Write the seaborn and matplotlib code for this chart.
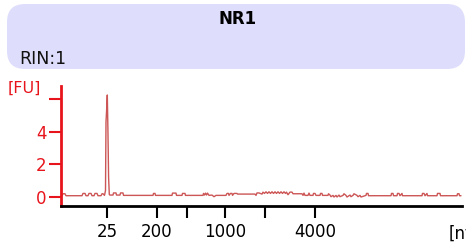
import matplotlib
matplotlib.use("Agg")
import matplotlib.pyplot as plt
import matplotlib.transforms as mtransforms
from matplotlib.patches import FancyBboxPatch
import seaborn as sns
import pandas as pd

# ---- data (x in migration-position units, y in fluorescence units) ----
time_pos = [62, 63, 65, 66,
            82, 83, 85, 86, 88, 89, 91, 92, 94, 95, 97, 98,
            101, 102, 103, 104.5, 105.5, 106, 106.6, 107.3, 107.9, 108.6, 109.3,
            110, 113, 113.5, 116, 116.5, 120, 120.5, 123, 123.5,
            153, 153.5, 155, 155.5, 172, 172.5, 176, 176.5, 182, 182.5, 185, 185.5,
            203, 203.5, 204.5, 205.5, 206.5, 207.5, 209, 212, 214, 216,
            226, 227, 228.5, 229, 230.5, 232, 232.5, 234, 237, 237.5,
            255, 256, 257, 259, 262, 263, 264.5, 266, 267.5, 269, 270.5, 272,
            273.5, 275, 276.5, 278, 279.5, 281, 282.5, 284, 285.5,
            286.5, 288, 290, 292, 293, 302, 303, 304, 305, 308, 309, 310, 313, 313.5,
            315, 316, 320, 320.5, 322, 322.5, 328, 328.5, 330, 331,
            333, 334, 336, 337, 339, 340, 343, 344, 346, 347, 350, 351, 353, 354,
            357, 358, 360, 361, 366, 366.5, 368, 368.5,
            391, 391.5, 393, 393.5, 397, 397.5, 399, 400, 402, 402.5,
            422, 422.5, 424, 425, 427, 427.5, 437, 437.5, 440, 440.5,
            457, 457.5, 459, 459.5, 461]
fluor = [0.08, 0.2, 0.2, 0.08,
         0.08, 0.22, 0.22, 0.08, 0.08, 0.22, 0.22, 0.08, 0.08, 0.22, 0.22, 0.08,
         0.08, 0.2, 0.2, 0.1, 0.4, 4.6, 5.3, 6.25, 4.2, 1.2, 0.15,
         0.12, 0.12, 0.25, 0.25, 0.12, 0.12, 0.25, 0.25, 0.1,
         0.1, 0.22, 0.22, 0.1, 0.1, 0.24, 0.24, 0.1, 0.1, 0.22, 0.22, 0.1,
         0.1, 0.22, 0.12, 0.24, 0.12, 0.24, 0.1, 0.12, 0.02, 0.1,
         0.1, 0.22, 0.22, 0.1, 0.22, 0.22, 0.1, 0.22, 0.22, 0.18,
         0.18, 0.1, 0.25, 0.25, 0.18, 0.3, 0.22, 0.32, 0.22, 0.32, 0.22, 0.32,
         0.22, 0.32, 0.22, 0.32, 0.22, 0.32, 0.22, 0.32, 0.22,
         0.3, 0.14, 0.3, 0.3, 0.2, 0.2, 0.1, 0.24, 0.1, 0.1, 0.24, 0.1, 0.1, 0.22,
         0.22, 0.1, 0.1, 0.22, 0.22, 0.1, 0.1, 0.2, 0.12, 0.02,
         0.1, 0.0, 0.1, 0.0, 0.12, 0.02, 0.1, 0.2, 0.1, 0.0, 0.12, 0.02, 0.1, 0.2,
         0.1, 0.02, 0.1, 0.0, 0.1, 0.22, 0.22, 0.08,
         0.08, 0.22, 0.22, 0.08, 0.08, 0.22, 0.22, 0.08, 0.22, 0.08,
         0.08, 0.22, 0.22, 0.08, 0.22, 0.08, 0.08, 0.22, 0.22, 0.08,
         0.08, 0.2, 0.2, 0.08, 0.08]

x_tick_pos = [107, 157, 187, 225, 265, 315]
x_tick_labels = ["25", "200", "", "1000", "", "4000"]
y_tick_vals = [0, 2, 4, 6]
y_tick_labels = ["0", "2", "4", ""]
title = "NR1"
rin_text = "RIN:1"

# ---- figure ----
sns.set_style("white")
plt.rcParams["font.family"] = ["DejaVu Sans"]
W, H = 466, 248
fig = plt.figure(figsize=(W / 100, H / 100), dpi=100)

# header box in pixel coordinates
box = FancyBboxPatch((7 + 18, H - 69 + 18), 458 - 36, 65 - 36,
                     boxstyle="round,pad=18", transform=mtransforms.IdentityTransform(),
                     facecolor="#dedefc", edgecolor="none", zorder=0)
fig.add_artist(box)
fig.text(238 / W, 1 - 19 / H, title, ha="center", va="center",
         fontsize=12, fontweight="bold", color="black")
fig.text(19 / W, 1 - 59 / H, rin_text, ha="left", va="center",
         fontsize=12.5, color="#111111")

ax = fig.add_axes([61 / W, 1 - 206 / H, (462 - 61) / W, (206 - 86) / H])
ax.set_facecolor("none")
df = pd.DataFrame({"pos": time_pos, "fu": fluor})
sns.lineplot(data=df, x="pos", y="fu", ax=ax, color="#cc5555", linewidth=1.0,
             estimator=None, sort=False)

ax.set_xlim(61, 462)
ax.set_ylim(-0.55, 6.8)
ax.set_xlabel("")
ax.set_ylabel("")
ax.set_xticks(x_tick_pos)
ax.set_xticklabels(x_tick_labels)
ax.set_yticks(y_tick_vals)
ax.set_yticklabels(y_tick_labels)

red = "#e8141c"
for s in ["top", "right"]:
    ax.spines[s].set_visible(False)
ax.spines["left"].set_color(red)
ax.spines["left"].set_linewidth(2)
ax.spines["bottom"].set_color("black")
ax.spines["bottom"].set_linewidth(2)
ax.tick_params(axis="y", direction="out", length=8.5, width=1.5, colors=red,
               labelsize=12, pad=2, left=True)
ax.tick_params(axis="x", direction="out", length=8.5, width=1.5, colors="black",
               labelsize=12, pad=4, bottom=True)
ax.grid(False)

fig.text(8 / W, 1 - 88 / H, "[FU]", ha="left", va="center", fontsize=11.5, color=red)
fig.text(449 / W, 1 - 234 / H, "[nt]", ha="left", va="center", fontsize=12, color="black")

fig.savefig("out.png", dpi=100)
